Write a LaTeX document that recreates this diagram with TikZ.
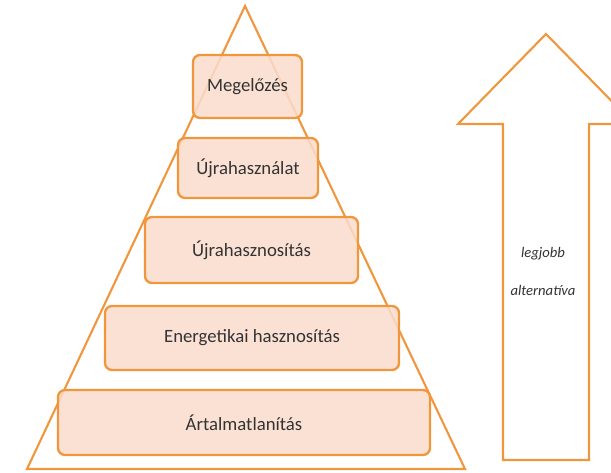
\documentclass[tikz,border=0pt]{standalone}
\usepackage{fontspec}
\setmainfont{Carlito}
\usetikzlibrary{positioning}
\definecolor{pyrline}{HTML}{F0963C}
\definecolor{pyrfill}{HTML}{FADCCD}
\definecolor{pyrtext}{HTML}{333333}

\begin{document}
\begin{tikzpicture}[x=0.03cm,y=-0.03cm]
\tikzset{level/.style={draw=pyrline,line width=2pt,fill=pyrfill,fill opacity=0.85,text opacity=1,text=pyrtext,rounded corners=6pt,inner sep=0pt,font=\fontsize{16}{18}\selectfont},
 side/.style={text=pyrtext,font=\fontsize{12.5}{14}\selectfont\itshape}}
\useasboundingbox (0,0) rectangle (611,472);
\clip (0,0) rectangle (611,472);

% the pyramid
\draw[pyrline,line width=1.8pt] (245,6) -- (465,469) -- (27,469) -- cycle;

\node[level,minimum width=3.27cm,minimum height=1.89cm] (megel) at (247.5,86.5) {Megelőzés};
\node[level,minimum width=4.2cm,minimum height=1.8cm] (ujrahaszn) at (248,168) {Újrahasználat};
\node[level,minimum width=6.39cm,minimum height=1.98cm] (ujrahasznos) at (251.5,250) {Újrahasznosítás};
\node[level,minimum width=8.82cm,minimum height=1.92cm] (energ) at (252,338) {Energetikai hasznosítás};
\node[level,minimum width=11.16cm,minimum height=1.95cm] (artalm) at (244,422.5) {Ártalmatlanítás};

% the arrow
\draw[pyrline,line width=1.8pt] (503,460) -- (503,124) -- (458,124) -- (546,34) -- (634,124) -- (589,124) -- (589,460) -- cycle;
\node[side] (legjobb) at (543,254) {legjobb};
\node[side] (altern) at (543,290) {alternatíva};

\end{tikzpicture}
\end{document}
